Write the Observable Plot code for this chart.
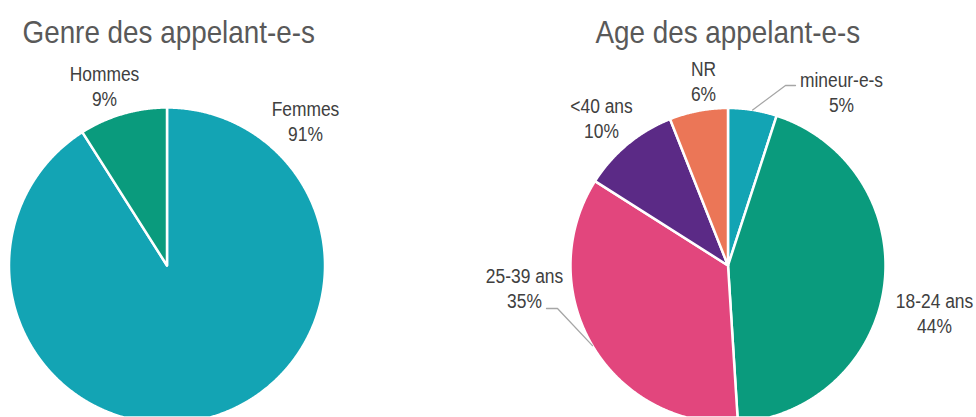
<!DOCTYPE html>
<html><head><meta charset="utf-8">
<script src="https://cdn.jsdelivr.net/npm/d3@7"></script>
<script src="https://cdn.jsdelivr.net/npm/@observablehq/plot@0.6"></script>
<style>html,body{margin:0;padding:0;background:#fff} svg{display:block}</style>
</head><body><div id="chart"></div>
<script>
// ---- data ----
const titles = ["Genre des appelant-e-s", "Age des appelant-e-s"];
const genreCategories = ["Femmes", "Hommes"];
const genreValues = [91, 9];
const ageCategories = ["mineur-e-s", "18-24 ans", "25-39 ans", "<40 ans", "NR"];
const ageValues = [5, 44, 35, 10, 6];

// ---- layout & style ----
const W = 976, H = 417;
const FONT = "'Liberation Sans', Arial, sans-serif";
const NARROW = 0.87; // horizontal condensing of the text
const pieLayout = [
  {cx: 166.5, cy: 265, r: 158, tx: 22, ty: 42},
  {cx: 727.5, cy: 265, r: 157.5, tx: 595, ty: 42}
];
const colorMap = {
  "Femmes": "#13a4b4", "Hommes": "#0a9b7d",
  "mineur-e-s": "#13a4b4", "18-24 ans": "#0a9b7d", "25-39 ans": "#e2467d",
  "<40 ans": "#5b2a86", "NR": "#eb7657"
};
// label anchor: [center x, baseline of last line]
const labelPos = {
  "Femmes": [305, 140], "Hommes": [104, 105],
  "mineur-e-s": [841, 111], "18-24 ans": [934, 332], "25-39 ans": [524, 307],
  "<40 ans": [601, 137], "NR": [703, 100]
};
// leader elbows (from rim at slice mid-angle)
const leaderPts = {
  "mineur-e-s": [[785, 85], [795, 85]],
  "25-39 ans": [[557, 308], [546, 308]]
};

const pies = [
  {cats: genreCategories, vals: genreValues, title: titles[0], ...pieLayout[0]},
  {cats: ageCategories, vals: ageValues, title: titles[1], ...pieLayout[1]}
];

const slices = [], labels = [], leaders = [], titleData = [];
for (const p of pies) {
  const total = d3.sum(p.vals);
  const arcs = d3.pie().sort(null).value(d => d)(p.vals);
  arcs.forEach((a, i) => {
    const cat = p.cats[i];
    const ring = [[p.cx, p.cy]];
    const n = Math.max(4, Math.ceil((a.endAngle - a.startAngle) / 0.005));
    for (let k = 0; k <= n; k++) {
      const t = a.startAngle + (a.endAngle - a.startAngle) * k / n;
      ring.push([p.cx + p.r * Math.sin(t), p.cy - p.r * Math.cos(t)]);
    }
    ring.push([p.cx, p.cy]);
    slices.push({type: "Feature", properties: {cat}, geometry: {type: "Polygon", coordinates: [ring]}});
    const [lx, ly] = labelPos[cat];
    labels.push({x: lx, y: ly, text: `${cat}\n${Math.round(100 * p.vals[i] / total)}%`});
    if (leaderPts[cat]) {
      const mid = (a.startAngle + a.endAngle) / 2;
      const start = [p.cx + p.r * Math.sin(mid), p.cy - p.r * Math.cos(mid)];
      leaders.push({type: "Feature", properties: {cat}, geometry: {type: "LineString", coordinates: [start, ...leaderPts[cat]]}});
    }
  });
  titleData.push({x: p.tx, y: p.ty, text: p.title});
}

const chart = Plot.plot({
  width: W, height: H, margin: 0,
  projection: {type: "identity"},
  color: {domain: Object.keys(colorMap), range: Object.values(colorMap)},
  style: {background: "#fff", fontFamily: FONT},
  marks: [
    Plot.geo(slices, {fill: d => d.properties.cat, stroke: "#fff", strokeWidth: 2.5, strokeLinejoin: "round"}),
    Plot.geo(leaders, {stroke: "#a6a6a6", strokeWidth: 1.3, fill: "none"}),
    Plot.text(labels, {x: "x", y: "y", text: "text", textAnchor: "middle", lineAnchor: "bottom",
      lineHeight: 1.25, fontSize: 20, fill: "#404040", fontFamily: FONT}),
    Plot.text(titleData, {x: "x", y: "y", text: "text", textAnchor: "start", lineAnchor: "bottom",
      fontSize: 32, fill: "#595959", fontFamily: FONT})
  ]
});
// condense text horizontally around each text's anchor point
chart.querySelectorAll("text").forEach(t => {
  const tr = t.getAttribute("transform") || "";
  t.setAttribute("transform", `${tr} scale(${NARROW},1)`);
});
document.getElementById("chart").append(chart);
</script>
</body></html>
